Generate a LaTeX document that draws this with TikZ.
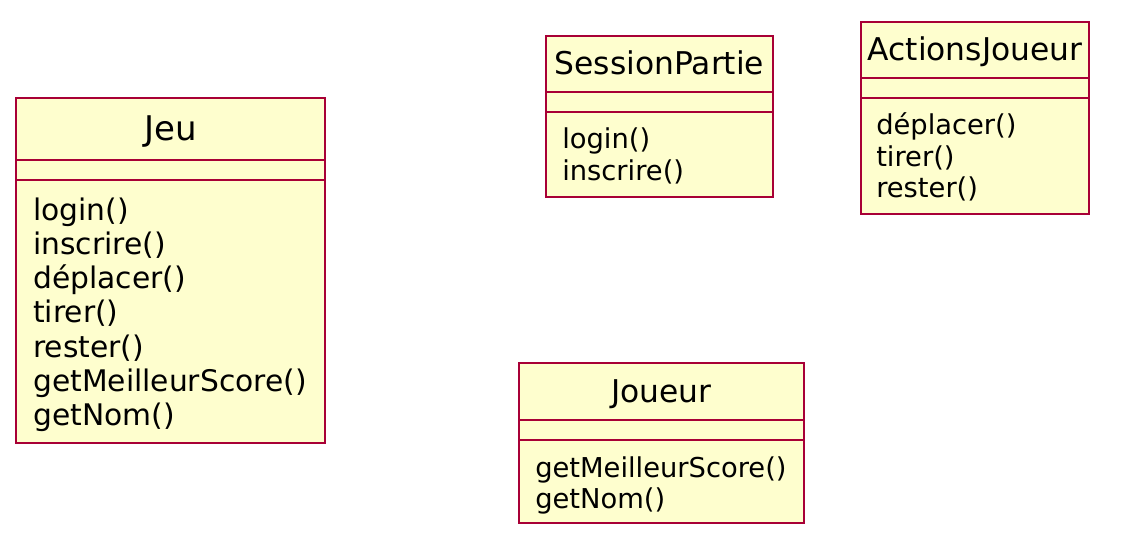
\documentclass[tikz,border=0pt]{standalone}
\usepackage{fontspec}
\setmainfont{DejaVu Sans}
\definecolor{classfill}{HTML}{FEFECE}
\definecolor{classline}{HTML}{A80036}
\tikzset{
  classbox/.style={draw=classline, fill=classfill, line width=2.2pt},
  classsep/.style={draw=classline, line width=2.2pt},
  classname/.style={anchor=base, inner sep=0pt, font=\fontsize{23.5}{28}\selectfont},
  bigname/.style={anchor=base, inner sep=0pt, font=\fontsize{25.5}{30}\selectfont},
  method/.style={anchor=base west, inner sep=0pt, font=\fontsize{20.5}{24}\selectfont},
  bigmethod/.style={anchor=base west, inner sep=0pt, font=\fontsize{22.3}{26}\selectfont}
}
\begin{document}
\begin{tikzpicture}[x=0.75pt, y=-0.75pt]
    \useasboundingbox (0,0) rectangle (1133,550);
    % classe Jeu
    \draw[classbox] (16,98) rectangle (325,443);
    \draw[classsep] (16,160) -- (325,160);
    \draw[classsep] (16,180) -- (325,180);
    \node[bigname] (jeu) at (170.5,140) {Jeu};
    \node[bigmethod] (jeu-login) at (33,220) {login()};
    \node[bigmethod] (jeu-inscrire) at (33,254.3) {inscrire()};
    \node[bigmethod] (jeu-deplacer) at (33,288.6) {déplacer()};
    \node[bigmethod] (jeu-tirer) at (33,322.9) {tirer()};
    \node[bigmethod] (jeu-rester) at (33,357.2) {rester()};
    \node[bigmethod] (jeu-score) at (33,391.5) {getMeilleurScore()};
    \node[bigmethod] (jeu-nom) at (33,425.8) {getNom()};
    % classe SessionPartie
    \draw[classbox] (546,36) rectangle (773,197);
    \draw[classsep] (546,92) -- (773,92);
    \draw[classsep] (546,112) -- (773,112);
    \node[classname] (session) at (659.5,74) {SessionPartie};
    \node[method] (session-login) at (562,148) {login()};
    \node[method] (session-inscrire) at (562,180) {inscrire()};
    % classe ActionsJoueur
    \draw[classbox] (861,22) rectangle (1089,214);
    \draw[classsep] (861,78) -- (1089,78);
    \draw[classsep] (861,98) -- (1089,98);
    \node[classname] (actions) at (975,60) {ActionsJoueur};
    \node[method] (actions-deplacer) at (876,134) {déplacer()};
    \node[method] (actions-tirer) at (876,166) {tirer()};
    \node[method] (actions-rester) at (876,197) {rester()};
    % classe Joueur
    \draw[classbox] (519,363) rectangle (804,523);
    \draw[classsep] (519,420) -- (804,420);
    \draw[classsep] (519,440) -- (804,440);
    \node[classname] (joueur) at (661.5,402) {Joueur};
    \node[method] (joueur-score) at (535,477) {getMeilleurScore()};
    \node[method] (joueur-nom) at (535,508) {getNom()};
\end{tikzpicture}
\end{document}
